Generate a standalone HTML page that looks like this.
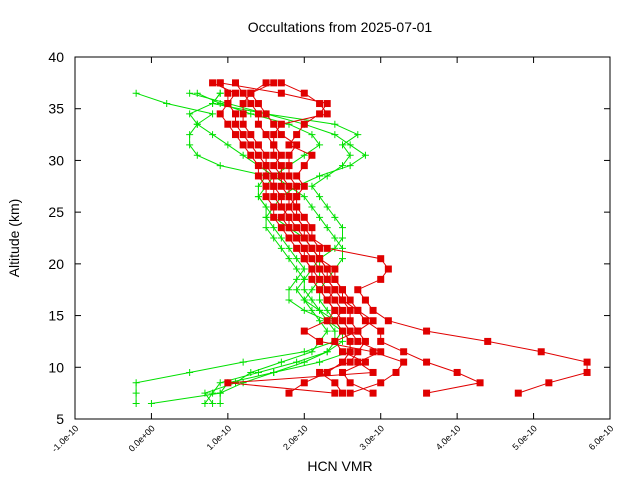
<!DOCTYPE html>
<html><head><meta charset="utf-8"><style>
html,body{margin:0;padding:0;background:#fff;}
svg{display:block;font-family:"Liberation Sans",sans-serif;}
</style></head><body>
<svg id="chart" width="640" height="480" viewBox="0 0 640 480">
<rect width="640" height="480" fill="#fff"/>
<text x="340" y="32" text-anchor="middle" font-size="14">Occultations from 2025-07-01</text>
<text transform="translate(19,238) rotate(-90)" text-anchor="middle" font-size="14">Altitude (km)</text>
<text x="340" y="471" text-anchor="middle" font-size="14">HCN VMR</text>
<g id="axes"></g>
<g id="series"></g>
<rect x="75" y="57" width="535" height="362" fill="none" stroke="#000" stroke-width="1"/>
</svg>
<script>
const xTicks=[-1,0,1,2,3,4,5,6];
const xTickLabels=["-1.0e-10","0.0e+00","1.0e-10","2.0e-10","3.0e-10","4.0e-10","5.0e-10","6.0e-10"];
const yTicks=[5,10,15,20,25,30,35,40];
const redAlt=[7.5,8.5,9.5,10.5,11.5,12.5,13.5,14.5,15.5,16.5,17.5,18.5,19.5,20.5,21.5,22.5,23.5,24.5,25.5,26.5,27.5,28.5,29.5,30.5,31.5,32.5,33.5,34.5,35.5,36.5,37.5];
const red1=[1.8,2.0,2.3,2.5,2.6,2.6,2.5,2.4,2.5,2.4,2.3,2.2,2.1,2.0,2.0,1.9,1.8,1.8,1.7,1.6,1.6,1.5,1.5,1.5,1.4,1.3,1.2,1.2,1.2,1.3,1.5];
const red2=[3.6,4.3,4.0,3.6,3.3,3.0,3.0,2.8,2.7,2.6,2.5,2.4,2.3,2.2,2.1,2.0,2.0,1.9,1.9,1.8,1.8,1.7,1.7,1.6,1.6,1.5,1.4,1.4,1.3,1.2,1.1];
const red3=[4.8,5.2,5.7,5.7,5.1,4.4,3.6,3.1,2.9,2.8,2.7,3.0,3.1,3.0,2.3,2.1,2.0,1.9,1.8,1.8,1.7,1.7,1.6,1.7,1.6,1.6,1.7,2.3,2.2,2.0,1.7];
const red4=[2.4,1.0,2.9,2.7,3.0,2.7,2.6,2.5,2.4,2.3,2.2,2.1,2.1,2.0,1.9,1.8,1.7,1.6,1.6,1.5,1.5,1.4,1.4,1.3,1.2,1.1,1.0,0.9,1.0,1.1,0.8];
const red5=[2.6,3.0,3.2,3.3,2.9,2.2,2.0,2.3,2.4,2.3,2.4,2.3,2.2,2.1,2.0,1.9,1.8,1.7,1.8,1.9,2.0,1.9,2.0,2.1,1.8,1.9,2.0,2.2,2.3,1.7,0.9];
const red6=[2.5,2.4,2.2,2.6,2.7,2.8,2.7,2.6,2.6,2.5,2.4,2.3,2.3,2.2,2.1,2.0,1.9,1.8,1.7,1.7,1.6,1.6,1.5,1.4,1.3,1.2,1.1,1.1,1.0,1.0,0.9];
const red7=[2.9,2.6,2.5,2.8,2.5,2.4,2.7,2.9,2.7,2.5,2.5,2.4,2.4,2.2,2.2,2.1,2.1,2.0,1.9,1.9,1.9,1.8,1.8,1.8,1.9,1.7,1.6,1.5,1.4,1.3,1.6];
const greenAlt=[6.5,7.5,8.5,9.5,10.5,11.5,12.5,13.5,14.5,15.5,16.5,17.5,18.5,19.5,20.5,21.5,22.5,23.5,24.5,25.5,26.5,27.5,28.5,29.5,30.5,31.5,32.5,33.5,34.5,35.5,36.5];
const green1=[0.0,0.9,1.2,1.6,2.0,2.3,2.4,2.4,2.3,2.2,2.1,2.0,2.0,1.9,1.8,1.7,1.6,1.5,1.5,1.6,1.7,1.9,2.2,2.6,2.8,2.6,2.4,2.0,1.5,1.0,0.5];
const green2=[-0.2,-0.2,-0.2,0.5,1.2,2.0,2.4,2.5,2.3,2.0,1.8,1.8,1.9,2.0,1.9,1.8,1.7,1.6,1.5,1.5,1.4,1.4,1.5,0.9,0.6,0.5,0.5,0.6,0.8,0.2,-0.2];
const green3=[0.7,0.8,0.9,1.4,1.9,2.3,2.5,2.5,2.4,2.3,2.2,2.2,2.3,2.4,2.5,2.5,2.4,2.3,2.2,2.1,2.0,1.8,1.6,1.4,1.2,1.0,0.8,0.6,0.5,0.8,0.9];
const green4=[0.9,0.9,1.0,1.6,2.2,2.6,2.6,2.5,2.4,2.2,2.0,1.9,2.0,2.1,2.2,2.4,2.5,2.5,2.4,2.3,2.2,2.1,2.3,2.5,2.6,2.5,2.7,2.4,1.5,0.8,0.9];
const green5=[0.8,0.7,1.1,1.3,1.7,2.1,2.2,2.3,2.2,2.1,2.0,2.1,2.2,2.2,2.2,2.1,2.0,1.8,1.6,1.5,1.4,1.5,1.6,1.8,2.0,2.2,2.1,1.8,1.3,0.9,0.6];

const NS="http://www.w3.org/2000/svg";
const X0=75,X1=610,Y0=419,Y1=57;
function sx(v){return X0+(v-(-1))/(6-(-1))*(X1-X0);}
function sy(v){return Y0-(v-5)/(40-5)*(Y0-Y1);}
function mk(tag,attrs,parent){const e=document.createElementNS(NS,tag);for(const k in attrs)e.setAttribute(k,attrs[k]);parent.appendChild(e);return e;}
const axes=document.getElementById('axes');
xTicks.forEach((t,i)=>{
  const x=sx(t);
  const a=mk('line',{x1:x,y1:Y0,x2:x,y2:Y0-6,stroke:'#000'},axes);
  
  
  const b=mk('line',{x1:x,y1:Y1,x2:x,y2:Y1+6,stroke:'#000'},axes);
  
  
  const tx=mk('text',{x:x+4,y:Y0+10,'font-size':'9','text-anchor':'end',transform:`rotate(-45 ${x+4} ${Y0+10})`},axes);
  tx.textContent=xTickLabels[i];
  
  
});
yTicks.forEach(t=>{
  const y=sy(t);
  const a=mk('line',{x1:X0,y1:y,x2:X0+6,y2:y,stroke:'#000'},axes);
  
  
  const b=mk('line',{x1:X1,y1:y,x2:X1-6,y2:y,stroke:'#000'},axes);
  
  
  const tx=mk('text',{x:X0-11,y:y+5,'font-size':'14','text-anchor':'end'},axes);
  tx.textContent=t;
  
  
});
const sg=document.getElementById('series');
function drawSeries(vals,alts,color,kind,name){
  const g=mk('g',{},sg);
  
  
  const pts=vals.map((v,i)=>sx(v).toFixed(1)+','+sy(alts[i]).toFixed(1)).join(' ');
  mk('polyline',{points:pts,fill:'none',stroke:color,'stroke-width':'1'},g);
  vals.forEach((v,i)=>{
    const x=sx(v),y=sy(alts[i]);
    let m;
    if(kind==='square'){m=mk('rect',{x:x-3.5,y:y-3.5,width:7,height:7,fill:color},g);}
    else{m=mk('path',{d:`M${x-3.5},${y}H${x+3.5}M${x},${y-3.5}V${y+3.5}`,stroke:color,'stroke-width':'1'},g);}
    
    
  });
}
[green1,green2,green3,green4,green5].forEach((s,i)=>drawSeries(s,greenAlt,'#00e000','plus','green-profile-'+(i+1)));
[red1,red2,red3,red4,red5,red6,red7].forEach((s,i)=>drawSeries(s,redAlt,'#e00000','square','red-profile-'+(i+1)));
</script>
</body></html>
